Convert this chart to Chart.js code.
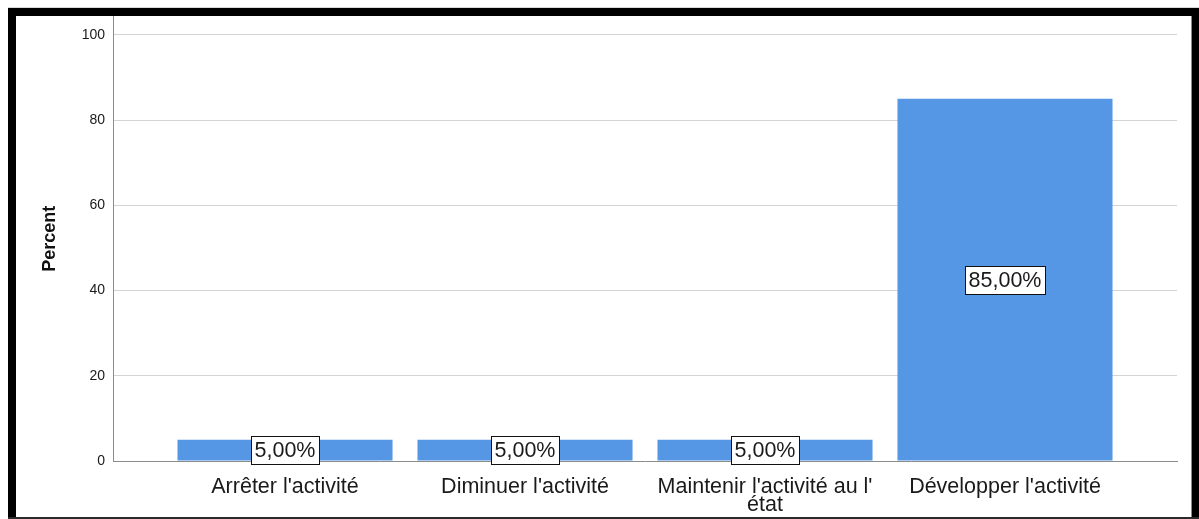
<!DOCTYPE html>
<html>
<head>
<meta charset="utf-8">
<title>Percent</title>
<script src="https://cdn.jsdelivr.net/npm/chart.js@4.4.0/dist/chart.umd.min.js"></script>
<style>
    body { margin: 0; background: #ffffff; }
    #wrap { width: 1199px; height: 519px; }
</style>
</head>
<body>
<div id="wrap">
    <canvas id="grafik1" width="1199" height="519"></canvas>
</div>
<script>
// Data
var categories = [
    "Arrêter l'activité",
    "Diminuer l'activité",
    ["Maintenir l'activité au l'", "état"],
    "Développer l'activité"
];
var percentValues = [5, 5, 5, 85];
var yTickValues = [0, 20, 40, 60, 80, 100];

Chart.defaults.font.family = "'Liberation Sans', Arial, sans-serif";
Chart.defaults.color = "#1a1a1a";

// Kotak label persen di tengah batang
var labelBoxPlugin = {
    id: "labelBox",
    afterDatasetsDraw: function (chart) {
        var ctx = chart.ctx;
        var meta = chart.getDatasetMeta(0);
        ctx.save();
        ctx.font = "21.5px 'Liberation Sans', Arial, sans-serif";
        ctx.textAlign = "center";
        ctx.textBaseline = "middle";
        meta.data.forEach(function (bar, i) {
            var text = percentValues[i].toFixed(2).replace(".", ",") + "%";
            var cx = Math.round(bar.x);
            var cy = Math.round((bar.y + bar.base) / 2);
            var w = Math.round(ctx.measureText(text).width) + 7;
            var h = 28;
            var x0 = Math.round(cx - w / 2) + 0.5;
            var y0 = Math.round(cy - h / 2) + 0.5;
            ctx.fillStyle = "#ffffff";
            ctx.fillRect(x0, y0, w, h);
            ctx.strokeStyle = "#111111";
            ctx.lineWidth = 1;
            ctx.strokeRect(x0, y0, w, h);
            ctx.fillStyle = "#1a1a1a";
            ctx.fillText(text, cx, cy + 1);
        });
        ctx.restore();
    }
};

// Bingkai hitam di sekeliling grafik
var framePlugin = {
    id: "frame",
    beforeDraw: function (chart) {
        var ctx = chart.ctx;
        ctx.save();
        ctx.fillStyle = "#ffffff";
        ctx.fillRect(0, 0, chart.width, chart.height);
        ctx.restore();
    },
    afterDraw: function (chart) {
        var ctx = chart.ctx;
        ctx.save();
        ctx.fillStyle = "#d8d8d8";
        ctx.fillRect(8, 7, 1191, 1);
        ctx.fillStyle = "#000000";
        ctx.fillRect(8, 8, 1191, 8);
        ctx.fillRect(8, 8, 8, 511);
        ctx.fillRect(1192, 8, 7, 511);
        ctx.fillStyle = "#2a2a2a";
        ctx.fillRect(8, 517, 1191, 2);
        ctx.fillStyle = "#8a8a8a";
        ctx.fillRect(1191, 16, 1, 501);
        ctx.restore();
    }
};

var dataBar = {
    datasets: [
        {
            label: "Percent",
            backgroundColor: "#5596e5",
            borderWidth: 0,
            barPercentage: 0.896,
            categoryPercentage: 1,
            data: percentValues.map(function (v, i) { return { x: i, y: v }; })
        }
    ]
};

var options = {
    responsive: false,
    animation: false,
    layout: {
        padding: { top: 16, right: 22, bottom: 0, left: 0 }
    },
    plugins: {
        legend: { display: false },
        tooltip: { enabled: false }
    },
    scales: {
        x: {
            type: "linear",
            offset: false,
            min: -0.7167,
            max: 3.7167,
            grid: { display: false, offset: false },
            border: { display: true, color: "#8c8c8c", width: 1 },
            afterBuildTicks: function (scale) {
                scale.ticks = categories.map(function (c, i) { return { value: i }; });
            },
            afterFit: function (scale) {
                scale.height = 58;
            },
            ticks: {
                autoSkip: false,
                maxRotation: 0,
                padding: 9,
                color: "#1a1a1a",
                font: { size: 21.5, lineHeight: "18px" },
                callback: function (value) {
                    return categories[value];
                }
            }
        },
        y: {
            min: 0,
            max: 104.34,
            afterBuildTicks: function (scale) {
                scale.ticks = yTickValues.map(function (v) { return { value: v }; });
            },
            afterFit: function (scale) {
                scale.width = 113;
            },
            grid: {
                color: function (c) { return c.tick && c.tick.value === 0 ? "rgba(0,0,0,0)" : "#d4d4d4"; },
                lineWidth: 1,
                drawTicks: false
            },
            border: { display: true, color: "#8c8c8c", width: 1 },
            ticks: {
                padding: 8,
                color: "#1a1a1a",
                font: { size: 14 }
            },
            title: {
                display: true,
                text: "Percent",
                color: "#111111",
                font: { size: 18, weight: "bold" },
                padding: { top: 39, bottom: 0 }
            }
        }
    }
};

var ctxBar = document.getElementById("grafik1").getContext("2d");
var myChartBar = new Chart(ctxBar, {
    type: "bar",
    data: dataBar,
    options: options,
    plugins: [framePlugin, labelBoxPlugin]
});
</script>
</body>
</html>
